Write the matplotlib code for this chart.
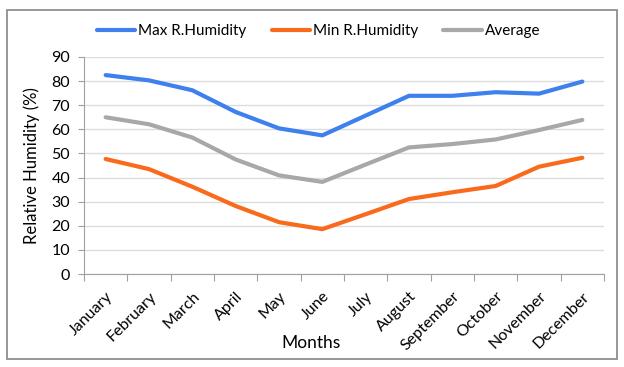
import matplotlib.pyplot as plt
from matplotlib.patches import Rectangle

months = ['January', 'February', 'March', 'April', 'May', 'June', 'July',
          'August', 'September', 'October', 'November', 'December']
max_rh = [82.5, 80.3, 76.2, 67.2, 60.4, 57.5, 65.7, 73.9, 73.9, 75.4, 74.8, 79.8]
min_rh = [47.7, 43.5, 36.2, 28.2, 21.5, 18.6, 24.8, 31.1, 33.9, 36.5, 44.5, 48.2]
avg_rh = [65.0, 62.1, 56.6, 47.5, 40.9, 38.2, 45.4, 52.5, 53.9, 55.8, 59.7, 63.9]

plt.rcParams['font.family'] = ['Lato', 'DejaVu Sans']

fig = plt.figure(figsize=(6.24, 3.67), dpi=100)
ax = fig.add_axes([84 / 624, 1 - 274 / 367, 520 / 624, 217 / 367])

x = range(len(months))
ax.plot(x, max_rh, color='#3d80ee', lw=3, solid_capstyle='round', label='Max R.Humidity', zorder=3)
ax.plot(x, min_rh, color='#fa6a1c', lw=3, solid_capstyle='round', label='Min R.Humidity', zorder=3)
ax.plot(x, avg_rh, color='#a6a9a6', lw=3, solid_capstyle='round', label='Average', zorder=3)

ax.set_ylim(0, 90)
ax.set_xlim(-0.5, len(months) - 0.5)
ax.set_yticks(range(0, 91, 10))
ax.yaxis.grid(True, color='#dcdcdc', lw=1)
ax.set_axisbelow(True)
for s in ['top', 'right']:
    ax.spines[s].set_visible(False)
ax.spines['left'].set_color('#a0a0a0')
ax.spines['bottom'].set_color('#a0a0a0')

# ticks between categories, labels at centres
ax.set_xticks([i - 0.5 for i in range(len(months) + 1)])
ax.set_xticklabels([])
ax.set_xticks(list(x), minor=True)
ax.set_xticklabels(months, minor=True, rotation=45, ha='right', rotation_mode='anchor', fontsize=11.5)
ax.tick_params(axis='x', which='minor', length=0, pad=11)
ax.tick_params(axis='x', which='major', length=5, color='#a0a0a0')
ax.tick_params(axis='y', length=4, color='#a0a0a0', labelsize=11.5, pad=6)

ax.set_xlabel('Months', fontsize=12.5)
ax.xaxis.set_label_coords((311 - 84) / 520, (274 - 343) / 217)
ax.xaxis.label.set_verticalalignment('center')
ax.set_ylabel('Relative Humidity (%)', fontsize=12, labelpad=8)

fig.legend(loc='center', bbox_to_anchor=(0.5104, 1 - 31 / 367), ncol=3, frameon=False,
           fontsize=11, handlelength=2.5, handletextpad=0.2, columnspacing=1.65)

fig.patches.append(Rectangle((7 / 624, 1 - 359 / 367), 610 / 624, 349 / 367,
                             transform=fig.transFigure, fill=False, ec='#8a9092', lw=1.3))

plt.savefig('out.png', dpi=100)
